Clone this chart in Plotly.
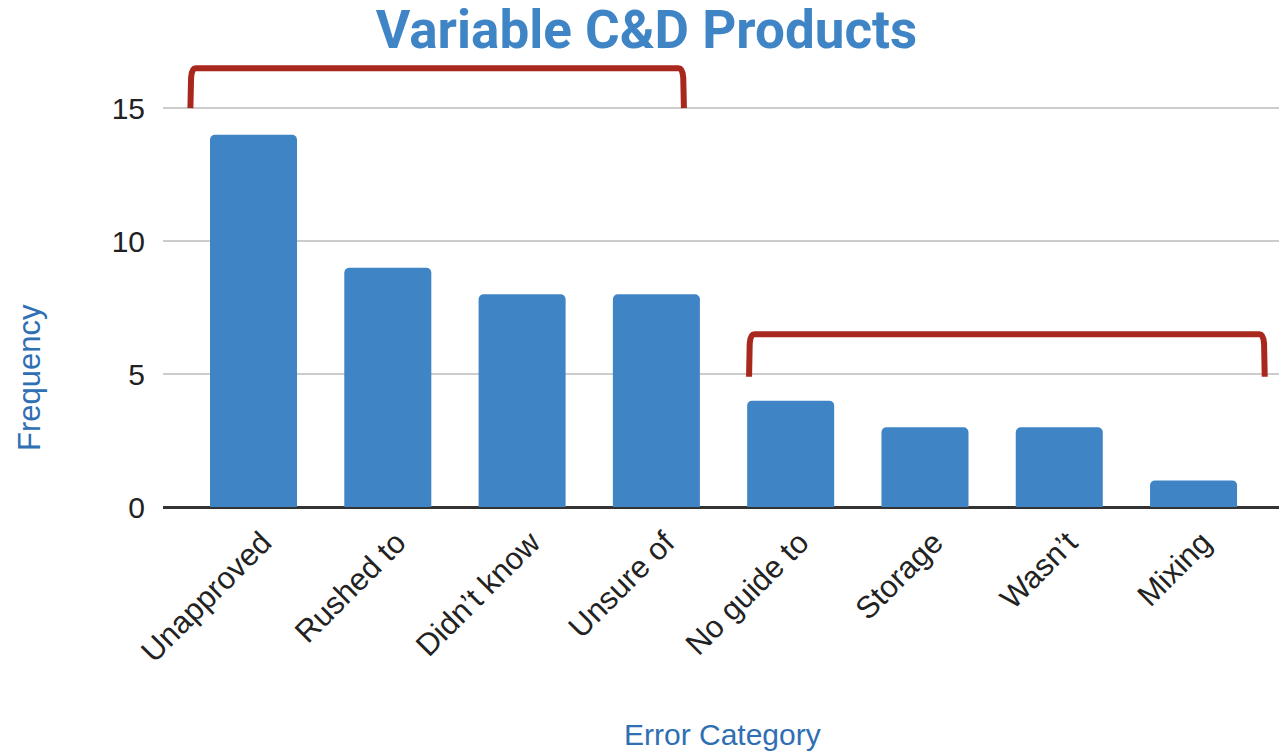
import plotly.graph_objects as go

categories = ["Unapproved", "Rushed to", "Didn\u2019t know", "Unsure of", "No guide to", "Storage", "Wasn\u2019t", "Mixing"]
frequency = [14, 9, 8, 8, 4, 3, 3, 1]
y_ticks = [0, 5, 10, 15]

# bracket annotations: (x_left, x_right, y_bottom, y_top) in data units
brackets = [(-0.47, 3.205, 15.0, 16.5), (3.69, 7.53, 4.9, 6.5)]

BLUE = "#3f85c6"
RED = "#a8281e"

fig = go.Figure()
fig.add_trace(go.Bar(
    x=list(range(len(categories))), y=frequency,
    marker=dict(color=BLUE, line=dict(width=0)),
    width=0.648,
))

shapes = []
for (xl, xr, yb, yt) in brackets:
    cx = 0.04
    cy = 0.35
    path = (f"M {xl},{yb} L {xl+0.005},{yt-cy} Q {xl+0.01},{yt} {xl+cx},{yt} "
            f"L {xr-cx},{yt} Q {xr-0.01},{yt} {xr-0.005},{yt-cy} L {xr},{yb}")
    shapes.append(dict(type="path", path=path, xref="x", yref="y",
                       line=dict(color=RED, width=6)))

W, H = 1279, 745
L, R, T, B = 155, 4, 47, 246
PW, PH = W - L - R, H - T - B

fig.update_layout(
    width=W, height=H,
    margin=dict(l=L, r=R, t=T, b=B),
    plot_bgcolor="white", paper_bgcolor="white",
    barcornerradius=5,
    showlegend=False,
    title=dict(text="<b>Variable C&D Products</b>", x=(646.5 - 8) / W, xanchor="center",
               y=1 - 21/H, yanchor="middle", yref="container",
               font=dict(family="Roboto", size=53, color=BLUE)),
    xaxis=dict(
        range=[-0.674, 7.666],
        tickmode="array", tickvals=list(range(len(categories))), ticktext=categories,
        tickangle=-45, showgrid=False, zeroline=False, showline=False,
        tickfont=dict(family="Liberation Sans, Arial", size=31, color="#222222"),
        ticks="outside", ticklen=4, tickcolor="rgba(0,0,0,0)",
        ticklabelshift=9,
    ),
    yaxis=dict(
        range=[0, 17], tickmode="array", tickvals=y_ticks,
        showgrid=True, gridcolor="#cccccc", gridwidth=2,
        zeroline=True, zerolinecolor="#333333", zerolinewidth=3,
        showline=False,
        tickfont=dict(family="Liberation Sans, Arial", size=30, color="#222222"),
        ticks="outside", ticklen=11, tickcolor="rgba(0,0,0,0)",
    ),
    shapes=shapes,
    annotations=[
        dict(text="Frequency", xref="paper", yref="paper", x=(21 - L) / PW, y=(499 - 370) / PH,
             xanchor="center", yanchor="middle", textangle=-90, showarrow=False,
             font=dict(family="Liberation Sans, Arial", size=31, color="#2f6fb3")),
        dict(text="Error Category", xref="paper", yref="paper", x=(714 - L) / PW, y=-(726 - 499) / PH,
             xanchor="center", yanchor="middle", showarrow=False,
             font=dict(family="Liberation Sans, Arial", size=30, color="#2f6fb3")),
    ],
)

fig.write_html("out.html")
